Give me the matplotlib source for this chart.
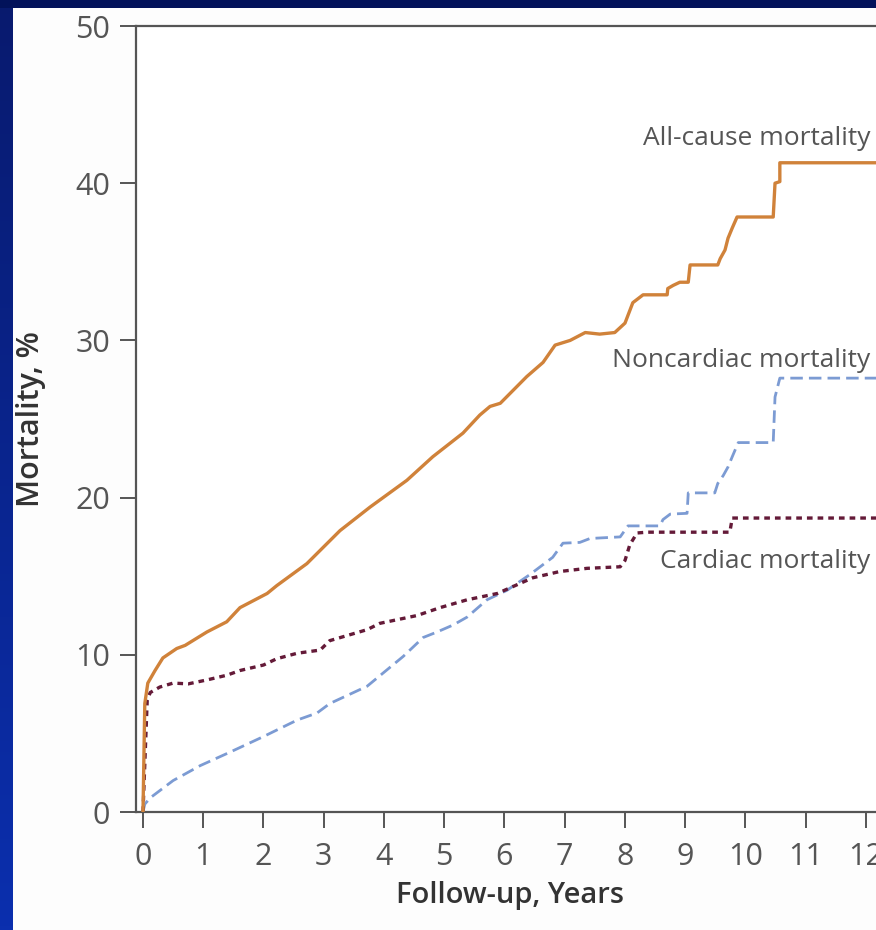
#!/usr/bin/env python3
# -*- coding: utf-8 -*-

import sys

import matplotlib
matplotlib.use("Agg")
from matplotlib import pyplot as plt
import numpy as np

# Kaplan-Meier style cumulative mortality curves
ALL_CAUSE_YEARS = [0, 0.03, 0.08, 0.2, 0.33, 0.56, 0.70, 1.06, 1.39, 1.61, 2.06, 2.22, 2.72,
                   3.27, 3.77, 4.38, 4.81, 5.31, 5.59, 5.76, 5.93, 6.37, 6.64, 6.84, 7.09,
                   7.34, 7.58, 7.83, 8.0, 8.13, 8.30, 8.70, 8.71, 8.80, 8.91, 9.05, 9.08,
                   9.54, 9.58, 9.66, 9.71, 9.78, 9.86, 10.46, 10.49, 10.57, 10.57, 12.3]
ALL_CAUSE_PCT = [0, 6.9, 8.2, 9.0, 9.8, 10.4, 10.6, 11.45, 12.1, 13.0, 13.9, 14.4, 15.8,
                 17.9, 19.4, 21.1, 22.6, 24.1, 25.25, 25.8, 26.0, 27.7, 28.6, 29.7, 30.0,
                 30.5, 30.4, 30.5, 31.1, 32.4, 32.9, 32.9, 33.3, 33.5, 33.7, 33.7, 34.8,
                 34.8, 35.2, 35.75, 36.5, 37.15, 37.85, 37.85, 40.0, 40.1, 41.3, 41.3]

CARDIAC_YEARS = [0, 0.07, 0.12, 0.28, 0.5, 0.75, 1.06, 1.39, 1.61, 2.0, 2.22, 2.56, 2.94,
                 3.1, 3.72, 3.93, 4.55, 4.93, 5.38, 5.88, 6.47, 6.92, 7.37, 7.92, 8.0,
                 8.08, 8.2, 8.37, 9.74, 9.78, 12.3]
CARDIAC_PCT = [0, 7.1, 7.6, 7.95, 8.2, 8.15, 8.4, 8.7, 9.0, 9.35, 9.75, 10.1, 10.3,
               10.9, 11.6, 12.0, 12.5, 13.0, 13.5, 13.9, 14.9, 15.3, 15.5, 15.6, 16.0,
               17.0, 17.75, 17.8, 17.8, 18.7, 18.7]

NONCARDIAC_YEARS = [0, 0.03, 0.12, 0.5, 0.95, 1.44, 2.0, 2.56, 2.89, 3.1, 3.72, 4.32, 4.65,
                    4.88, 5.15, 5.38, 5.71, 6.04, 6.42, 6.8, 6.97, 7.25, 7.42, 7.92, 8.05,
                    8.58, 8.63, 8.75, 9.03, 9.05, 9.49, 9.54, 9.63, 9.71, 9.78, 9.88, 10.46,
                    10.49, 10.57, 12.3]
NONCARDIAC_PCT = [0, 0.5, 0.9, 2.0, 2.95, 3.8, 4.8, 5.85, 6.3, 6.9, 8.0, 9.9, 11.1,
                  11.45, 11.9, 12.4, 13.5, 14.1, 15.1, 16.2, 17.1, 17.15, 17.4, 17.5, 18.2,
                  18.2, 18.6, 18.95, 19.0, 20.3, 20.3, 20.9, 21.4, 21.95, 22.6, 23.5, 23.5,
                  26.4, 27.6, 27.6]

CURVE_LABELS = ["All-cause mortality", "Noncardiac mortality", "Cardiac mortality"]
LABEL_Y = [42.4, 28.3, 15.5]

X_TICKS = list(range(13))
Y_TICKS = [0, 10, 20, 30, 40, 50]

FONT = ["Open Sans", "DejaVu Sans"]
GREY = "#555555"


def draw_frame(fig: plt.Figure):
    # dark blue slide border on the left and top
    grad = np.linspace(0, 1, 256).reshape(-1, 1)
    cmap = matplotlib.colors.LinearSegmentedColormap.from_list("edge", ["#081a6e", "#0b2fae"])
    side = fig.add_axes([0, 0, 13 / 876, 1], zorder=-1)
    side.imshow(grad, aspect="auto", cmap=cmap)
    side.set_axis_off()
    top = fig.add_axes([0, 1 - 8 / 930, 1, 8 / 930], zorder=-1)
    top.set_facecolor("#02125a")
    top.set_xticks([])
    top.set_yticks([])
    for s in top.spines.values():
        s.set_visible(False)


def main() -> int:
    plt.rcParams["font.family"] = FONT

    fig = plt.figure(figsize=(8.76, 9.30), dpi=100)
    fig.patch.set_facecolor("#fdfdfd")

    ax = fig.add_axes([136 / 876, 1 - 812 / 930, 1 - 136 / 876, (812 - 26) / 930])
    ax.set_facecolor("#ffffff")

    ax.plot(ALL_CAUSE_YEARS, ALL_CAUSE_PCT, color="#d0823a", lw=2.4, zorder=3)
    ax.plot(NONCARDIAC_YEARS, NONCARDIAC_PCT, color="#7c9bd3", lw=2.0, dashes=(4.5, 2.2), zorder=2)
    ax.plot(CARDIAC_YEARS, CARDIAC_PCT, color="#641a38", lw=2.4, dashes=(1.7, 1.5), zorder=2)

    for text, y in zip(CURVE_LABELS, LABEL_Y):
        ax.text(12.07, y, text, ha="right", va="baseline", fontsize=19, color=GREY, clip_on=False)

    ax.set_xlim(-0.116, 12.166)
    ax.set_ylim(0, 50)
    ax.set_xticks(X_TICKS)
    ax.set_yticks(Y_TICKS)

    ax.spines["right"].set_visible(False)
    for side in ["left", "bottom", "top"]:
        ax.spines[side].set_color(GREY)
        ax.spines[side].set_linewidth(1.6)

    ax.tick_params(axis="both", direction="out", length=11.5, width=1.4, color=GREY,
                   labelcolor=GREY, labelsize=22)
    ax.tick_params(axis="y", pad=7)
    ax.tick_params(axis="x", pad=10)

    ax.set_ylabel("Mortality, %", fontsize=22, fontweight="semibold", color="#333333")
    ax.yaxis.set_label_coords(-0.121, 0.5)
    ax.set_xlabel("Follow-up, Years", fontsize=21, fontweight="semibold", color="#333333")
    ax.xaxis.set_label_coords(0.505, -0.088)

    draw_frame(fig)

    fig.savefig("out.png", dpi=100, facecolor=fig.get_facecolor())
    return 0


if __name__ == "__main__":
    sys.exit(main())
